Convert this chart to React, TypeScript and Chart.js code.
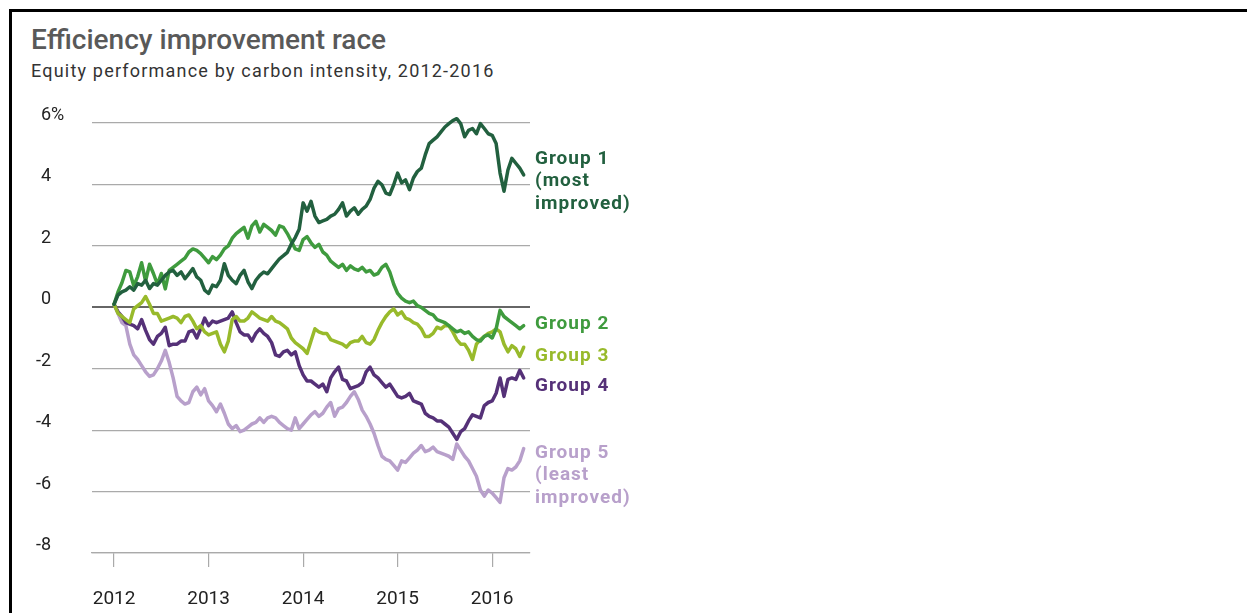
import React, { useEffect, useRef } from 'react';
import { Chart, registerables } from 'chart.js';

Chart.register(...registerables);

// ---- data (half-monthly observations, cumulative % performance) ----
const yearTicks = [2012, 2013, 2014, 2015, 2016];
const periodsPerYear = 24;
const yTickValues = [6, 4, 2, 0, -2, -4, -6, -8];
const yTickLabels = ['6%', '4', '2', '0', '-2', '-4', '-6', '-8'];

const group1 = [0.1, 0.4, 0.5, 0.56, 0.67, 0.56, 0.77, 0.72, 0.88, 0.61,
  0.77, 0.72, 0.88, 1.04, 1.15, 1.2, 1.04, 1.15, 0.93, 1.09,
  1.26, 0.99, 0.88, 0.56, 0.45, 0.72, 0.67, 0.88, 1.42, 1.04,
  0.88, 0.77, 1.04, 1.2, 0.83, 0.61, 0.88, 1.04, 1.15, 1.09,
  1.26, 1.42, 1.58, 1.68, 1.79, 2.06, 2.27, 2.54, 3.4, 3.13,
  3.45, 2.97, 2.76, 2.81, 2.86, 2.97, 3.03, 3.19, 3.4, 2.97,
  3.13, 3.24, 3.03, 3.19, 3.29, 3.51, 3.88, 4.1, 3.99, 3.72,
  3.67, 3.99, 4.37, 4.05, 4.15, 3.83, 4.21, 4.42, 4.53, 4.96,
  5.33, 5.44, 5.55, 5.71, 5.87, 5.98, 6.08, 6.14, 5.98, 5.55,
  5.76, 5.82, 5.65, 5.98, 5.82, 5.65, 5.6, 5.33, 4.37, 3.78,
  4.47, 4.85, 4.69, 4.53, 4.31];

const group2 = [0.1, 0.5, 0.8, 1.2, 1.15, 0.7, 1.0, 1.45, 0.85, 1.4,
  1.1, 0.75, 1.1, 0.6, 1.2, 1.3, 1.4, 1.5, 1.6, 1.8,
  1.9, 1.85, 1.75, 1.6, 1.45, 1.65, 1.55, 1.7, 1.9, 2.0,
  2.25, 2.4, 2.5, 2.6, 2.25, 2.65, 2.8, 2.45, 2.7, 2.6,
  2.5, 2.35, 2.65, 2.6, 2.4, 2.15, 1.9, 1.85, 2.2, 2.3,
  2.1, 1.95, 2.05, 1.8, 1.7, 1.5, 1.4, 1.3, 1.4, 1.2,
  1.35, 1.25, 1.2, 1.3, 1.15, 1.2, 1.05, 1.1, 1.3, 1.4,
  1.15, 0.75, 0.45, 0.3, 0.2, 0.15, 0.2, 0.05, 0.0, -0.1,
  -0.2, -0.25, -0.4, -0.45, -0.5, -0.6, -0.7, -0.8, -0.75, -0.85,
  -0.8, -0.95, -1.05, -1.1, -0.95, -0.9, -1.0, -0.7, -0.1, -0.3,
  -0.4, -0.5, -0.6, -0.7, -0.6];

const group3 = [0.1, -0.2, -0.3, -0.4, -0.5, -0.05, 0.05, 0.15, 0.35, 0.1,
  -0.2, -0.2, -0.45, -0.4, -0.35, -0.3, -0.35, -0.5, -0.3, -0.25,
  -0.45, -0.7, -0.6, -0.8, -0.9, -0.85, -0.8, -1.2, -1.45, -1.1,
  -0.4, -0.3, -0.45, -0.45, -0.35, -0.15, -0.25, -0.35, -0.4, -0.45,
  -0.3, -0.45, -0.5, -0.6, -0.7, -1.0, -1.15, -1.25, -1.35, -1.5,
  -1.1, -0.7, -0.8, -0.85, -0.85, -1.05, -1.1, -1.15, -1.2, -1.3,
  -1.15, -1.1, -1.1, -0.95, -1.15, -1.2, -1.05, -0.75, -0.5, -0.3,
  -0.15, -0.05, -0.25, -0.15, -0.35, -0.4, -0.5, -0.55, -0.7, -0.95,
  -0.95, -0.85, -0.65, -0.7, -0.6, -0.6, -0.8, -1.05, -1.2, -1.2,
  -1.4, -1.7, -1.2, -1.05, -0.95, -0.85, -0.8, -0.7, -0.8, -1.2,
  -1.45, -1.25, -1.35, -1.6, -1.3];

const group4 = [0.1, -0.15, -0.3, -0.5, -0.55, -0.6, -0.7, -0.4, -0.75, -1.05,
  -1.2, -0.95, -0.85, -0.65, -1.25, -1.2, -1.2, -1.1, -1.1, -0.8,
  -0.75, -1.0, -0.7, -0.35, -0.6, -0.45, -0.5, -0.45, -0.4, -0.35,
  -0.15, -0.5, -0.8, -0.9, -0.9, -1.1, -0.85, -0.7, -0.85, -0.95,
  -1.15, -1.55, -1.6, -1.45, -1.4, -1.55, -1.45, -1.9, -2.2, -2.4,
  -2.4, -2.5, -2.6, -2.5, -2.75, -2.3, -2.1, -1.95, -2.35, -2.4,
  -2.65, -2.6, -2.55, -2.45, -2.1, -1.95, -2.2, -2.3, -2.45, -2.6,
  -2.5, -2.7, -2.9, -2.95, -2.9, -2.8, -3.05, -3.1, -3.15, -3.45,
  -3.55, -3.6, -3.7, -3.7, -3.8, -3.9, -4.1, -4.3, -4.05, -3.95,
  -3.7, -3.5, -3.55, -3.6, -3.2, -3.1, -3.05, -2.8, -2.3, -2.9,
  -2.35, -2.3, -2.35, -2.05, -2.3];

const group5 = [0.1, -0.2, -0.5, -0.6, -1.2, -1.55, -1.7, -1.9, -2.1, -2.25,
  -2.2, -2.0, -1.75, -1.4, -1.8, -2.3, -2.9, -3.05, -3.15, -3.1,
  -2.75, -2.6, -2.85, -2.65, -3.05, -3.2, -3.4, -3.15, -3.45, -3.8,
  -3.95, -3.85, -4.05, -4.0, -3.9, -3.8, -3.75, -3.6, -3.75, -3.6,
  -3.55, -3.6, -3.75, -3.85, -3.95, -4.0, -3.6, -3.95, -3.8, -3.65,
  -3.5, -3.4, -3.55, -3.45, -3.25, -3.1, -3.55, -3.3, -3.25, -3.1,
  -2.9, -2.75, -3.0, -3.35, -3.55, -3.8, -4.1, -4.5, -4.85, -4.95,
  -5.0, -5.15, -5.3, -5.0, -5.05, -4.9, -4.75, -4.65, -4.5, -4.7,
  -4.65, -4.55, -4.7, -4.75, -4.8, -4.85, -4.95, -4.45, -4.65, -4.85,
  -5.0, -5.25, -5.5, -5.95, -6.15, -5.95, -6.05, -6.2, -6.35, -5.55,
  -5.25, -5.3, -5.2, -5.0, -4.6];

const seriesNames = ['Group 1', 'Group 2', 'Group 3', 'Group 4', 'Group 5'];
const seriesData = [group1, group2, group3, group4, group5];
const seriesColors = ['#22603f', '#3f9b3e', '#98ba2b', '#553178', '#b8a0cb'];
const labelLines = [
  ['Group 1', '(most', 'improved)'],
  ['Group 2'],
  ['Group 3'],
  ['Group 4'],
  ['Group 5', '(least', 'improved)'],
];
const labelAnchors = [4.82, -0.55, -1.6, -2.57, -4.75];

const FONT = 'Roboto, "Open Sans", sans-serif';

const textPlugin = {
  id: 'customText',
  afterDraw(chart: any) {
    const { ctx, chartArea, scales } = chart;
    const y = scales.y;
    ctx.save();
    // y tick labels, sitting just above their grid lines
    ctx.font = `18px ${FONT}`;
    ctx.fillStyle = '#222';
    ctx.textBaseline = 'middle';
    const lx = chartArea.left - 51;
    yTickValues.forEach((v, i) => {
      const py = y.getPixelForValue(v) - 7.5;
      const txt = yTickLabels[i];
      if (txt.startsWith('-')) {
        ctx.textAlign = 'right';
        ctx.fillText('-', lx, py);
        ctx.textAlign = 'left';
        ctx.fillText(txt.slice(1), lx, py);
      } else {
        ctx.textAlign = 'left';
        ctx.fillText(txt, lx, py);
      }
    });
    // series labels at right
    ctx.font = `bold 19px ${FONT}`;
    (ctx as any).letterSpacing = '1px';
    ctx.textAlign = 'left';
    labelLines.forEach((lines, si) => {
      const py0 = y.getPixelForValue(labelAnchors[si]);
      ctx.fillStyle = seriesColors[si];
      lines.forEach((ln, li) => {
        ctx.fillText(ln, chartArea.right + 5, py0 + li * 22.5);
      });
    });
    ctx.restore();
  },
};

export default function App() {
  const ref = useRef<HTMLCanvasElement | null>(null);

  useEffect(() => {
    if (!ref.current) return;
    const chart = new Chart(ref.current, {
      type: 'line',
      data: {
        datasets: seriesData.map((vals, si) => ({
          label: seriesNames[si],
          data: vals.map((v, i) => ({ x: i, y: v })),
          borderColor: seriesColors[si],
          backgroundColor: seriesColors[si],
          borderWidth: 3.5,
          pointRadius: 0,
          tension: 0,
          borderJoinStyle: 'round',
          borderCapStyle: 'round',
          fill: false,
          clip: 12,
        })),
      },
      options: {
        responsive: false,
        animation: false,
        layout: { padding: { left: 38, right: 717, top: 123, bottom: 0 } },
        plugins: {
          legend: { display: false },
          tooltip: { enabled: false },
          title: { display: false },
        },
        scales: {
          x: {
            type: 'linear',
            min: -5.6,
            max: 105.6,
            afterBuildTicks: (scale: any) => {
              scale.ticks = yearTicks.map((yr) => ({ value: (yr - 2012) * periodsPerYear }));
            },
            afterFit: (scale: any) => {
              scale.height = 60;
            },
            ticks: {
              callback: (value: any) => String(2012 + Math.round(Number(value) / periodsPerYear)),
              font: { family: FONT, size: 19 },
              color: '#222',
              padding: 21,
              maxRotation: 0,
              autoSkip: false,
            },
            grid: {
              drawOnChartArea: false,
              drawTicks: true,
              tickLength: 14,
              color: '#aaaaaa',
              lineWidth: 1.2,
            },
            border: { display: true, color: '#aaaaaa', width: 1.2 },
          },
          y: {
            type: 'linear',
            min: -8,
            max: 6,
            afterBuildTicks: (scale: any) => {
              scale.ticks = yTickValues.map((v) => ({ value: v }));
            },
            afterFit: (scale: any) => {
              scale.width = 54;
            },
            ticks: { display: false },
            grid: {
              drawTicks: false,
              color: (c: any) => (c.tick && c.tick.value === 0 ? '#666666' : '#aaaaaa'),
              lineWidth: (c: any) => (c.tick && c.tick.value === 0 ? 2 : 1.2),
            },
            border: { display: false },
          },
        },
      },
      plugins: [textPlugin],
    });
    return () => chart.destroy();
  }, []);

  return (
    <div style={{ position: 'fixed', left: 0, top: 0, width: 1247, height: 613, background: '#fff', overflow: 'hidden' }}>
      <div
        style={{
          position: 'absolute',
          left: 9,
          top: 9,
          right: -10,
          bottom: -10,
          borderLeft: '3px solid #000',
          borderTop: '3px solid #000',
        }}
      />
      <div
        style={{
          position: 'absolute',
          left: 31,
          top: 26,
          font: `500 28px ${FONT}`,
          lineHeight: '28px',
          color: '#595959',
          whiteSpace: 'nowrap',
        }}
      >
        Efficiency improvement race
      </div>
      <div
        style={{
          position: 'absolute',
          left: 31,
          top: 62,
          font: `18px ${FONT}`,
          lineHeight: '18px',
          letterSpacing: '1.2px',
          color: '#333',
          whiteSpace: 'nowrap',
        }}
      >
        Equity performance by carbon intensity, 2012-2016
      </div>
      <canvas ref={ref} width={1247} height={613} style={{ position: 'absolute', left: 0, top: 0 }} />
    </div>
  );
}
